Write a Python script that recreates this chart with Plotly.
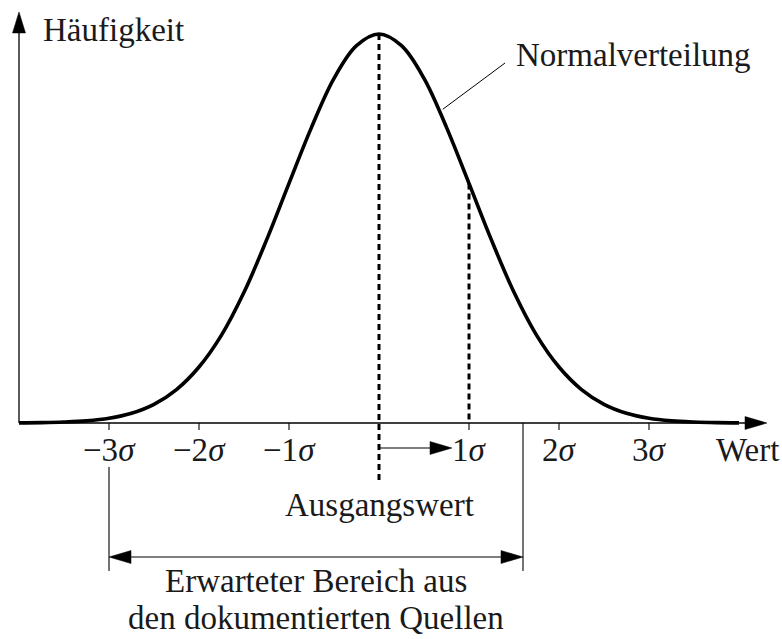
import plotly.graph_objects as go

# ---- data (x in units of sigma, height normalised to the peak) ----
SIGMA_X = [-4.0, -3.75, -3.5, -3.25, -3.0, -2.75, -2.5, -2.25, -2.0, -1.75, -1.5, -1.25,
           -1.0, -0.75, -0.5, -0.25, 0.0, 0.25, 0.5, 0.75, 1.0, 1.25, 1.5, 1.75,
           2.0, 2.25, 2.5, 2.75, 3.0, 3.25, 3.5, 3.75, 4.0]
DENSITY = [0.0004, 0.001, 0.0025, 0.0055, 0.012, 0.025, 0.048, 0.086, 0.144, 0.226, 0.336, 0.470,
           0.616, 0.760, 0.886, 0.970, 1.0, 0.970, 0.886, 0.760, 0.616, 0.470, 0.336, 0.226,
           0.144, 0.086, 0.048, 0.025, 0.012, 0.0055, 0.0025, 0.001, 0.0004]

TICK_POS = [-3, -2, -1, 1, 2, 3]
TICK_LABELS = ["−3<i>σ</i>", "−2<i>σ</i>", "−1<i>σ</i>", "1<i>σ</i>", "2<i>σ</i>", "3<i>σ</i>"]

MEAN = 0.0
SHIFT_TARGET = 1.0          # 1 sigma
RANGE_LOW, RANGE_HIGH = -3.0, 1.6   # expected range from documented sources

Y_LABEL = "Häufigkeit"
X_LABEL = "Wert"
CURVE_LABEL = "Normalverteilung"
MEAN_LABEL = "Ausgangswert"
RANGE_LABEL_LINES = ["Erwarteter Bereich aus", "den dokumentierten Quellen"]

# ---- layout constants ----
W, H = 782, 639
X_RANGE = [-379 / 90, 403 / 90]
Y_RANGE = [-216 / 389, 423 / 389]
AXIS_X0 = -4.0
X_AXIS_END = 4.311
Y_AXIS_END = 1.0566
FONT = dict(family="Liberation Serif, Times New Roman, serif", size=33, color="#1a1a1a")
INK = "#000000"

fig = go.Figure()

# Normal curve
fig.add_trace(go.Scatter(x=SIGMA_X, y=DENSITY, mode="lines",
                         line=dict(color=INK, width=3.6, shape="spline", smoothing=1.0),
                         hoverinfo="skip", showlegend=False))

shapes = []


def line(x0, y0, x1, y1, width=1.3, dash=None):
    d = dict(type="line", xref="x", yref="y", x0=x0, y0=y0, x1=x1, y1=y1,
             line=dict(color=INK, width=width))
    if dash:
        d["line"]["dash"] = dash
    shapes.append(d)


def head(x, y, direction):
    paths = {
        "right": "M0,0L-22,6.5L-22,-6.5Z",
        "left": "M0,0L22,6.5L22,-6.5Z",
        "up": "M0,0L-6.5,-21L6.5,-21Z",
    }
    shapes.append(dict(type="path", xref="x", yref="y", xsizemode="pixel", ysizemode="pixel",
                       xanchor=x, yanchor=y, path=paths[direction],
                       fillcolor=INK, line=dict(color=INK, width=0.5)))


# axes
line(AXIS_X0, 0, X_AXIS_END - 0.1, 0, width=1.3)
head(X_AXIS_END, 0, "right")
line(AXIS_X0, 0, AXIS_X0, Y_AXIS_END - 0.03, width=1.3)
head(AXIS_X0, Y_AXIS_END, "up")

# ticks
for t in TICK_POS:
    line(t, 0, t, -0.018, width=1.1)

# dashed lines
line(MEAN, DENSITY[SIGMA_X.index(MEAN)], MEAN, -0.1517, width=3, dash="6px,4px")
line(SHIFT_TARGET, DENSITY[SIGMA_X.index(SHIFT_TARGET)], SHIFT_TARGET, 0, width=3, dash="6px,4px")

# shift arrow
ARROW_Y = -0.0643
line(MEAN, ARROW_Y, 0.811 - 0.1, ARROW_Y, width=1.2)
head(0.811, ARROW_Y, "right")

# expected range brackets
line(RANGE_LOW, -0.1131, RANGE_LOW, -0.3805, width=1.1)
line(RANGE_HIGH, 0, RANGE_HIGH, -0.3805, width=1.1)
RANGE_Y = -0.3445
line(RANGE_LOW + 0.1, RANGE_Y, RANGE_HIGH - 0.1, RANGE_Y, width=1.2)
head(RANGE_LOW, RANGE_Y, "left")
head(RANGE_HIGH, RANGE_Y, "right")

# leader line for curve label
line(0.708, 0.8064, 1.4, 0.9254, width=1.0)

annotations = []


def text(x, y, s, xanchor="center", yanchor="middle", height=None):
    a = dict(x=x, y=y, xref="x", yref="y", text=s, showarrow=False,
             xanchor=xanchor, yanchor=yanchor, font=FONT, borderpad=0)
    if height:
        a["height"] = height
    annotations.append(a)


for t, lab in zip(TICK_POS, TICK_LABELS):
    text(t, -0.0694, lab)
text(4.09, -0.0694, X_LABEL)
text(-3.744, 1.0103, Y_LABEL, xanchor="left")
text(1.511, 0.946, CURVE_LABEL, xanchor="left")
text(MEAN, -0.2108, MEAN_LABEL)
range_mid = (RANGE_LOW + RANGE_HIGH) / 2
text(range_mid, (423 - 580) / 389, RANGE_LABEL_LINES[0], height=37)
text(range_mid, (423 - 617) / 389, RANGE_LABEL_LINES[1], height=37)

fig.update_layout(
    width=W, height=H, autosize=False,
    margin=dict(l=0, r=0, t=0, b=0),
    paper_bgcolor="white", plot_bgcolor="white",
    xaxis=dict(range=X_RANGE, visible=False, fixedrange=True),
    yaxis=dict(range=Y_RANGE, visible=False, fixedrange=True),
    shapes=shapes, annotations=annotations,
    showlegend=False,
)

fig.write_html("out.html", config={"displayModeBar": False},
               post_script="document.body.style.margin='0';document.body.style.overflow='hidden';")
